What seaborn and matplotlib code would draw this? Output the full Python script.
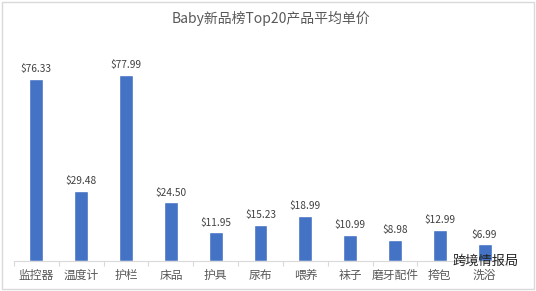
import matplotlib
matplotlib.use("Agg")
import matplotlib.pyplot as plt
import seaborn as sns
import pandas as pd
import numpy as np
from matplotlib.patches import Rectangle

categories = ["监控器", "温度计", "护栏", "床品", "护具", "尿布", "喂养", "袜子", "磨牙配件", "挎包", "洗浴"]
prices = [76.33, 29.48, 77.99, 24.50, 11.95, 15.23, 18.99, 10.99, 8.98, 12.99, 6.99]
title = "Baby新品榜Top20产品平均单价"
watermark = "跨境情报局"

sns.set_theme(style="white")
plt.rcParams['font.family'] = ['Noto Sans CJK SC', 'DejaVu Sans']

df = pd.DataFrame({"cat": categories, "price": prices})

fig = plt.figure(figsize=(5.36, 2.91), dpi=100)
ax = fig.add_axes([14/536, 1 - 261/291, (507-14)/536, (261-40)/291])
sns.barplot(data=df, x="cat", y="price", color="#4472C4", saturation=1, width=0.31, ax=ax)
ax.set_ylim(0, 92.5)
ax.set_xlim(-0.5, len(categories) - 0.5)
for i, v in enumerate(prices):
    ax.text(i, v + 2.0, f"${v:.2f}", ha="center", va="bottom", fontsize=7.3, color="#404040")
ax.set_xlabel("")
ax.set_ylabel("")
ax.set_yticks([])
for s in ["top", "right", "left"]:
    ax.spines[s].set_visible(False)
ax.spines["bottom"].set_color("#D9D9D9")
ax.spines["bottom"].set_linewidth(0.8)
ax.set_xticks(np.arange(-0.5, len(categories), 1.0), minor=True)
ax.tick_params(axis="x", which="minor", length=3.5, width=0.8, color="#D9D9D9", bottom=True)
ax.tick_params(axis="x", which="major", labelsize=8.5, colors="#595959", length=0, pad=6)
fig.text(0.505, 1 - 18/291, title, ha="center", va="center", fontsize=10, color="#595959")
fig.patches.append(Rectangle((0.004, 0.006), 0.992, 0.988, transform=fig.transFigure,
                             fill=False, edgecolor="#D9D9D9", linewidth=1))
fig.text(0.905, 1 - 261/291, watermark, ha="center", va="center", fontsize=9.5, color="#222222")
fig.savefig("out.png", dpi=100)
